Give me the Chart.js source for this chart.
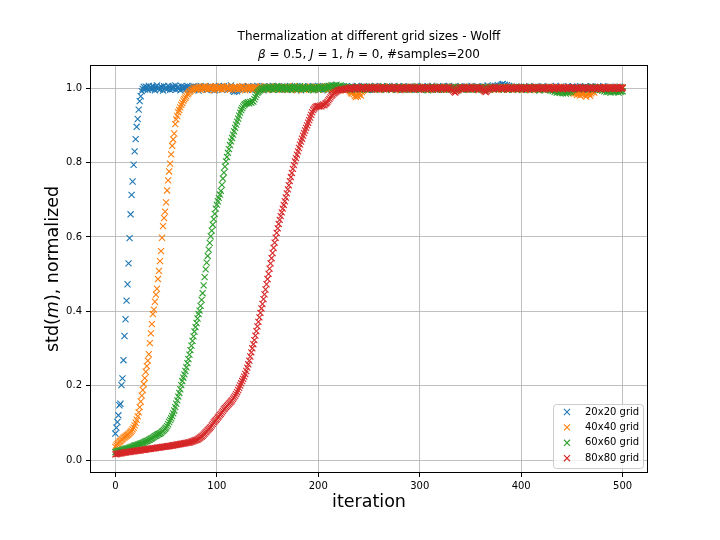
<!DOCTYPE html>
<html lang="en">
<head>
    <meta charset="UTF-8">
    <title>Thermalization at different grid sizes - Wolff</title>
    <script src="https://cdn.jsdelivr.net/npm/chart.js"></script>
    <style>
        html, body { margin: 0; padding: 0; background: #fff; }
        #wrap { width: 720px; height: 540px; }
    </style>
</head>
<body>
    <div id="wrap"><canvas id="chart" width="720" height="540"></canvas></div>
    <script>
        // series labels (legend order)
        const seriesLabels = ['20x20 grid', '40x40 grid', '60x60 grid', '80x80 grid'];

        // std(m), normalized, one value per iteration 0..500
        const grid20 = [
            0.072,0.088,0.103,0.121,0.148,0.152,0.202,0.220,0.269,0.334,
            0.379,0.429,0.473,0.529,0.597,0.661,0.713,0.749,0.794,0.830,
            0.863,0.896,0.917,0.942,0.965,0.978,0.992,0.998,1.003,0.996,
            1.004,1.001,0.995,1.006,0.999,1.002,0.997,1.005,1.000,0.994,
            1.003,1.007,0.998,1.001,0.996,1.004,1.002,0.993,1.005,0.999,
            1.001,0.997,1.006,1.003,0.995,1.000,1.004,0.998,1.002,1.007,
            0.996,1.001,1.004,0.999,0.994,1.005,1.002,0.998,1.003,1.000,
            0.997,1.006,1.001,0.995,1.004,0.999,1.002,1.005,0.996,1.001,
            1.003,0.998,0.993,1.002,1.006,1.000,0.997,1.004,0.999,1.002,
            0.995,1.003,1.001,0.998,1.005,0.996,1.002,1.000,0.994,1.004,
            1.001,0.997,1.006,0.999,1.003,0.995,1.002,1.005,0.998,1.000,
            1.004,0.996,1.001,0.999,1.007,1.002,0.993,0.990,0.992,0.996,
            0.991,0.995,0.999,1.003,1.001,0.997,1.004,0.998,1.002,1.000,
            0.996,1.005,1.001,0.998,1.003,0.995,1.000,1.004,0.997,1.002,
            1.006,0.999,1.001,0.996,1.003,1.000,0.994,1.005,1.002,0.998,
            1.001,1.004,0.997,1.002,0.999,1.006,0.995,1.001,1.003,0.998,
            1.000,1.005,0.996,1.002,0.999,1.004,1.001,0.997,1.003,0.995,
            1.002,1.000,1.006,0.998,1.001,0.996,1.004,0.999,1.002,1.005,
            0.997,1.001,1.003,0.994,1.000,1.004,0.998,1.002,0.996,1.001,
            1.005,0.999,1.002,0.997,1.004,1.000,0.995,1.003,1.001,0.998,
            1.006,1.002,0.996,1.001,0.999,1.004,0.997,1.003,1.000,0.994,
            1.002,1.005,0.998,1.001,0.996,1.003,0.999,1.007,1.002,0.997,
            1.000,1.004,0.995,1.001,1.003,0.998,1.002,0.996,1.005,1.000,
            0.997,1.003,1.001,0.994,1.004,1.000,0.998,1.002,1.006,0.999,
            1.001,0.996,1.003,1.000,0.997,1.005,1.002,0.998,1.001,0.995,
            1.004,1.000,0.997,1.003,1.001,0.996,1.006,0.999,1.002,0.998,
            1.003,0.995,1.001,1.004,0.998,1.002,1.000,0.996,1.005,1.001,
            0.999,1.003,0.997,1.002,1.000,1.006,0.998,1.001,0.995,1.004,
            1.002,0.998,1.001,0.996,1.005,1.000,1.003,0.997,1.002,0.999,
            1.004,1.001,0.995,1.002,0.999,1.003,0.997,1.006,1.000,0.998,
            1.002,0.996,1.004,1.001,0.998,1.003,1.000,0.995,1.005,1.001,
            0.998,1.002,1.006,0.999,1.001,0.996,1.003,1.000,0.997,1.004,
            1.001,0.995,1.002,1.005,0.998,1.000,1.003,0.997,1.001,1.006,
            0.999,1.002,0.996,1.004,1.001,0.998,1.003,1.000,0.994,1.002,
            1.005,0.999,1.001,0.997,1.003,1.000,0.996,1.004,1.002,0.998,
            1.001,1.006,0.997,1.002,0.999,1.003,0.995,1.001,1.004,1.000,
            0.998,1.002,1.005,0.996,1.001,1.003,0.999,1.007,1.002,0.997,
            1.004,1.000,0.998,1.003,1.006,1.001,1.005,1.008,1.004,1.002,
            1.007,1.010,1.011,1.006,1.009,1.004,1.008,1.003,1.006,1.001,
            0.999,1.003,0.996,1.002,1.000,1.004,0.997,1.001,1.003,0.998,
            1.002,0.995,1.001,1.004,0.999,1.003,0.997,1.000,1.005,1.001,
            0.998,1.002,1.000,0.996,1.004,1.001,0.998,1.003,0.995,1.002,
            1.000,1.005,0.997,1.001,1.003,0.999,1.002,0.996,1.004,1.000,
            0.997,1.003,1.001,0.998,1.006,1.000,0.995,1.002,0.999,1.004,
            1.001,0.997,1.003,1.000,0.996,1.002,1.005,0.998,1.001,0.999,
            1.004,0.996,1.002,1.000,0.997,1.003,1.001,0.995,1.005,0.999,
            1.002,0.998,1.001,1.004,0.997,1.000,1.003,0.996,1.002,1.005,
            0.999,1.001,0.996,1.003,1.000,0.998,1.004,1.001,0.997,1.002,
            1.000,1.005,0.998,1.001,0.996,1.003,0.999,1.002,1.004,0.997,
            1.001,0.999,1.003,0.996,1.002,1.000,0.998,1.004,1.001,0.999,
            1.002
        ];

        const grid40 = [
            0.036,0.040,0.044,0.047,0.050,0.052,0.055,0.057,0.060,0.062,
            0.064,0.066,0.068,0.070,0.073,0.076,0.079,0.083,0.088,0.094,
            0.101,0.109,0.118,0.129,0.143,0.158,0.174,0.189,0.205,0.221,
            0.238,0.253,0.268,0.285,0.315,0.341,0.366,0.393,0.405,0.426,
            0.445,0.461,0.487,0.509,0.535,0.562,0.598,0.629,0.651,0.668,
            0.693,0.725,0.752,0.776,0.797,0.822,0.845,0.862,0.878,0.903,
            0.916,0.925,0.935,0.941,0.948,0.955,0.960,0.966,0.970,0.974,
            0.978,0.983,0.986,0.990,0.992,0.995,0.996,0.999,1.001,0.998,
            1.002,0.997,1.004,1.000,0.995,1.003,1.001,0.998,1.005,0.999,
            1.002,0.996,1.001,1.004,0.998,1.000,1.003,0.994,1.001,1.005,
            0.999,1.002,0.997,1.003,1.000,0.996,1.004,1.001,0.998,1.002,
            1.005,0.999,1.001,0.995,1.003,1.000,0.997,1.002,1.004,0.998,
            1.001,0.996,1.003,0.999,1.002,1.005,0.998,1.000,0.994,1.003,
            1.001,0.997,1.004,1.000,0.998,1.002,0.995,1.001,1.003,0.999,
            1.002,0.996,1.000,1.005,0.998,1.001,0.997,1.003,1.000,0.995,
            1.003,1.001,0.998,1.004,0.999,1.002,0.996,1.000,1.003,0.997,
            1.001,1.004,0.998,1.000,0.995,1.002,0.999,1.003,1.001,0.997,
            1.004,1.000,0.996,1.002,0.999,1.001,1.005,0.998,1.000,0.994,
            1.002,0.999,1.003,0.997,1.001,1.000,0.996,1.004,0.998,1.002,
            1.000,0.995,1.003,1.001,0.998,1.002,0.997,1.000,1.004,0.999,
            1.001,0.996,1.002,0.999,1.003,0.997,1.000,1.005,0.998,1.001,
            0.995,1.002,0.999,1.003,1.000,0.997,1.001,0.994,1.002,0.998,
            1.003,1.000,0.996,1.001,0.998,1.004,0.999,0.993,0.997,1.001,
            0.996,0.992,0.988,0.985,0.990,0.984,0.979,0.976,0.981,0.978,
            0.983,0.986,0.980,0.989,0.993,0.996,1.000,0.997,1.002,0.999,
            1.003,0.998,1.001,0.996,1.002,1.000,0.997,1.004,0.999,1.001,
            0.995,1.002,0.998,1.001,1.003,0.997,1.000,0.996,1.002,0.999,
            1.004,1.000,0.997,1.002,0.999,1.003,0.996,1.001,0.998,1.002,
            1.000,0.994,1.003,0.999,1.001,0.997,1.004,1.000,0.996,1.002,
            0.998,1.001,1.003,0.997,1.000,0.995,1.002,0.999,1.004,1.000,
            0.997,1.002,0.999,1.001,0.996,1.003,1.000,0.998,1.002,0.995,
            1.001,0.999,1.004,0.997,1.000,1.002,0.996,1.001,0.999,1.003,
            0.998,1.000,0.995,1.002,1.001,0.997,1.003,0.999,1.000,0.996,
            1.002,0.998,1.001,1.004,0.997,1.000,0.993,0.996,1.002,0.999,
            1.001,0.997,1.003,1.000,0.995,1.002,0.998,1.001,0.999,1.004,
            0.996,1.001,0.999,1.002,0.997,1.000,1.003,0.998,0.994,1.001,
            0.999,1.002,0.996,1.000,1.003,0.997,1.001,0.998,1.002,0.995,
            1.000,0.998,1.002,0.999,1.001,0.996,1.003,1.000,0.997,1.002,
            0.999,1.001,0.995,1.002,0.998,1.000,1.003,0.997,1.001,0.999,
            1.002,0.996,1.000,1.001,0.998,1.003,0.999,0.995,1.002,1.000,
            0.997,1.001,0.999,1.003,0.996,1.000,1.002,0.998,1.001,0.994,
            1.000,1.002,0.997,1.001,0.999,1.003,0.996,1.000,0.998,1.002,
            0.999,1.001,0.995,1.000,1.002,0.997,1.001,0.999,1.003,0.996,
            1.000,0.998,1.002,0.999,1.001,0.996,1.000,1.003,0.997,0.999,
            1.002,0.998,1.000,0.995,1.001,0.999,1.002,0.996,0.993,0.990,
            0.992,0.988,0.985,0.990,0.986,0.982,0.987,0.984,0.980,0.985,
            0.989,0.983,0.986,0.981,0.977,0.983,0.987,0.984,0.979,0.986,
            0.990,0.993,0.988,0.995,0.998,1.000,0.997,1.001,0.999,1.002,
            0.996,1.000,0.998,1.003,0.999,1.001,0.997,1.002,1.000,0.995,
            1.001,0.999,1.002,0.997,1.000,1.003,0.998,1.001,0.999,1.002,
            1.000
        ];

        const grid60 = [
            0.022,0.023,0.024,0.025,0.026,0.026,0.027,0.028,0.029,0.030,
            0.031,0.031,0.032,0.033,0.034,0.035,0.036,0.037,0.038,0.040,
            0.040,0.041,0.042,0.043,0.044,0.045,0.046,0.047,0.048,0.050,
            0.051,0.052,0.053,0.055,0.056,0.058,0.059,0.061,0.063,0.065,
            0.066,0.068,0.070,0.071,0.072,0.074,0.077,0.079,0.082,0.085,
            0.088,0.092,0.097,0.103,0.108,0.113,0.119,0.126,0.134,0.143,
            0.152,0.161,0.171,0.181,0.191,0.202,0.213,0.222,0.231,0.240,
            0.250,0.261,0.272,0.284,0.296,0.308,0.321,0.333,0.346,0.358,
            0.369,0.381,0.393,0.402,0.415,0.431,0.449,0.470,0.492,0.513,
            0.531,0.549,0.566,0.584,0.602,0.617,0.633,0.648,0.662,0.676,
            0.687,0.696,0.705,0.714,0.724,0.740,0.757,0.773,0.789,0.803,
            0.815,0.826,0.836,0.847,0.857,0.866,0.875,0.884,0.893,0.902,
            0.910,0.918,0.926,0.934,0.941,0.946,0.951,0.955,0.957,0.959,
            0.960,0.962,0.959,0.963,0.961,0.965,0.964,0.970,0.976,0.982,
            0.987,0.990,0.993,0.995,0.997,0.999,1.001,0.998,1.002,1.000,
            1.002,0.997,1.004,0.999,1.001,0.995,1.003,1.000,0.998,1.005,
            1.001,0.996,1.002,0.999,1.004,0.997,1.000,1.003,0.998,1.001,
            0.995,1.002,1.000,0.997,1.004,1.001,0.998,1.003,0.996,1.000,
            1.002,0.999,1.005,0.997,1.001,0.998,1.003,1.000,0.996,1.002,
            0.999,1.004,1.001,0.997,1.000,0.994,1.002,0.998,1.003,1.000,
            0.997,1.001,1.004,0.999,1.002,0.996,1.000,1.003,0.998,1.005,
            1.001,1.006,1.003,1.008,1.004,1.007,1.002,1.005,1.009,1.004,
            1.006,1.002,1.007,1.003,1.001,1.005,0.999,1.003,1.000,0.997,
            1.002,0.998,1.001,0.995,1.003,1.000,0.997,1.002,0.999,1.004,
            1.000,0.996,1.002,0.999,1.001,0.997,1.003,1.000,0.995,1.002,
            0.998,1.001,1.004,0.997,1.000,1.002,0.996,1.001,0.999,1.003,
            1.000,0.997,1.002,0.999,1.005,0.998,1.001,0.996,1.003,1.000,
            0.998,1.002,0.995,1.001,0.999,1.003,1.000,0.997,1.002,0.999,
            1.004,0.998,1.001,0.996,1.002,1.000,0.997,1.003,0.999,1.001,
            0.995,1.002,0.998,1.000,1.003,0.997,1.001,0.999,1.004,0.998,
            1.001,0.996,1.002,0.999,1.000,1.003,0.997,1.001,0.994,1.002,
            0.999,1.001,0.997,1.003,1.000,0.998,1.002,0.996,1.001,0.999,
            1.003,0.998,1.000,1.002,0.995,1.001,0.999,1.004,0.997,1.000,
            1.002,0.996,1.001,0.999,1.003,0.998,1.000,0.997,1.002,0.999,
            1.000,1.003,0.996,1.001,0.998,1.002,0.999,1.000,0.995,1.003,
            0.999,1.001,0.997,1.002,1.000,0.998,1.003,0.996,1.001,0.999,
            1.002,0.997,1.000,1.001,0.995,1.003,0.998,1.000,1.002,0.996,
            1.001,0.999,1.003,0.997,1.000,1.002,0.998,1.001,0.996,1.000,
            1.003,0.999,1.001,0.997,1.002,1.000,0.995,1.001,0.998,1.003,
            0.999,1.001,0.996,1.002,1.000,0.998,1.003,0.997,1.001,0.999,
            1.002,0.996,1.000,1.001,0.998,1.003,0.999,1.000,0.995,1.002,
            0.998,1.001,0.999,1.003,0.997,1.000,1.002,0.996,0.993,0.997,
            1.000,0.998,1.002,0.999,0.996,1.001,0.997,1.000,0.995,0.993,
            0.996,0.992,0.995,0.990,0.993,0.988,0.991,0.989,0.987,0.992,
            0.989,0.986,0.990,0.988,0.985,0.991,0.987,0.990,0.993,0.989,
            0.994,0.997,1.000,0.998,1.002,0.999,1.001,0.996,1.000,1.003,
            0.998,1.001,0.997,1.000,1.002,0.999,0.996,1.001,0.998,1.000,
            1.003,0.997,1.000,0.999,1.002,0.996,1.001,0.998,0.995,0.997,
            0.993,0.996,0.991,0.994,0.989,0.993,0.990,0.992,0.988,0.991,
            0.993,0.989,0.992,0.990,0.994,0.991,0.988,0.993,0.990,0.992,
            0.991
        ];

        const grid80 = [
            0.016,0.017,0.017,0.018,0.018,0.019,0.019,0.020,0.020,0.021,
            0.021,0.022,0.022,0.022,0.023,0.023,0.024,0.024,0.024,0.025,
            0.025,0.026,0.026,0.026,0.027,0.027,0.028,0.028,0.028,0.029,
            0.029,0.030,0.030,0.030,0.031,0.031,0.032,0.032,0.032,0.033,
            0.033,0.034,0.034,0.034,0.035,0.035,0.036,0.036,0.036,0.037,
            0.037,0.038,0.038,0.038,0.039,0.039,0.040,0.040,0.041,0.041,
            0.042,0.042,0.043,0.043,0.044,0.044,0.045,0.045,0.046,0.046,
            0.047,0.047,0.048,0.048,0.049,0.050,0.051,0.052,0.053,0.054,
            0.055,0.056,0.058,0.060,0.062,0.064,0.066,0.069,0.072,0.075,
            0.078,0.081,0.084,0.087,0.090,0.094,0.098,0.102,0.105,0.108,
            0.111,0.115,0.118,0.122,0.125,0.129,0.133,0.137,0.140,0.143,
            0.146,0.149,0.152,0.155,0.158,0.161,0.165,0.169,0.173,0.178,
            0.183,0.189,0.195,0.201,0.207,0.213,0.219,0.225,0.232,0.240,
            0.249,0.258,0.268,0.279,0.290,0.301,0.312,0.323,0.335,0.347,
            0.360,0.372,0.384,0.396,0.408,0.420,0.433,0.446,0.459,0.473,
            0.487,0.501,0.515,0.529,0.543,0.557,0.571,0.585,0.598,0.611,
            0.623,0.635,0.646,0.656,0.666,0.676,0.686,0.696,0.706,0.717,
            0.728,0.739,0.750,0.761,0.772,0.783,0.793,0.803,0.812,0.821,
            0.830,0.839,0.848,0.856,0.864,0.872,0.879,0.886,0.893,0.900,
            0.907,0.914,0.921,0.928,0.935,0.941,0.945,0.948,0.950,0.951,
            0.952,0.950,0.953,0.951,0.954,0.956,0.954,0.958,0.960,0.963,
            0.967,0.971,0.975,0.979,0.982,0.985,0.987,0.989,0.991,0.993,
            0.994,0.995,0.996,0.997,0.995,0.998,0.996,0.999,0.997,1.000,
            0.998,1.001,0.997,1.002,0.999,1.000,0.996,1.003,1.001,0.998,
            1.002,0.999,1.000,0.997,1.003,1.001,0.998,1.000,1.004,0.999,
            1.001,0.997,1.002,1.000,0.998,1.003,0.999,1.001,0.996,1.002,
            1.000,0.998,1.003,0.999,1.001,0.997,1.002,1.000,0.998,1.001,
            0.999,1.003,1.000,0.997,1.002,0.999,1.001,0.998,1.003,1.000,
            0.997,1.001,0.999,1.002,1.000,0.996,1.001,0.999,1.003,0.998,
            1.000,1.002,0.998,1.001,0.997,1.003,1.000,0.999,1.001,0.996,
            1.002,0.999,1.000,1.003,0.998,1.001,0.997,1.002,1.000,0.999,
            1.001,0.997,1.003,1.000,0.998,1.002,0.999,1.001,0.996,1.000,
            1.003,0.999,1.001,0.998,1.002,1.000,0.997,1.001,0.999,1.003,
            0.998,1.000,0.996,0.993,0.990,0.988,0.991,0.994,0.997,1.000,
            1.002,0.999,1.001,0.997,1.003,1.000,0.998,1.002,0.999,1.001,
            0.997,1.000,1.003,0.999,1.001,0.998,1.002,1.000,0.996,1.001,
            0.999,1.002,0.998,0.994,0.991,0.989,0.992,0.995,0.998,1.000,
            1.002,0.999,1.001,0.997,1.003,1.000,0.998,1.001,0.999,1.002,
            1.000,0.997,1.001,0.999,1.003,0.998,1.000,1.002,0.996,1.001,
            0.999,1.002,1.000,0.998,1.001,0.997,1.003,1.000,0.999,1.002,
            0.998,1.001,0.999,1.002,1.000,0.996,1.001,0.999,1.003,0.998,
            1.000,1.002,0.997,1.001,0.999,1.003,1.000,0.998,1.002,0.999,
            1.001,0.997,1.002,1.000,0.998,1.001,0.999,1.003,0.997,1.000,
            1.002,0.999,1.001,0.996,1.000,1.003,0.998,1.001,0.999,1.002,
            1.000,0.997,1.001,0.999,1.002,0.998,1.000,1.003,0.999,1.001,
            0.997,1.002,1.000,0.998,1.001,0.999,1.003,0.997,1.000,1.002,
            0.999,1.001,0.998,1.002,1.000,0.996,1.001,0.999,1.003,1.000,
            0.998,1.001,0.999,1.002,0.997,1.000,1.001,0.999,1.003,0.998,
            1.000,1.002,0.999,1.001,0.997,1.000,1.002,0.998,1.001,0.999,
            1.002,1.000,0.998,1.001,0.999,1.003,0.997,1.000,1.002,0.999,
            1.001
        ];

        const seriesValues = [grid20, grid40, grid60, grid80];
        const seriesColors = ['#1f77b4', '#ff7f0e', '#2ca02c', '#d62728'];

        const xTicks = [0, 100, 200, 300, 400, 500];
        const yTicks = [0.0, 0.2, 0.4, 0.6, 0.8, 1.0];

        const FONT = "'DejaVu Sans', 'Liberation Sans', sans-serif";
        const MARK_R = 4.3;
        const MARK_W = 1.1;

        function drawX(ctx, x, y, r, color) {
            const d = r * Math.SQRT1_2;
            ctx.beginPath();
            ctx.moveTo(x - d, y - d); ctx.lineTo(x + d, y + d);
            ctx.moveTo(x - d, y + d); ctx.lineTo(x + d, y - d);
            ctx.strokeStyle = color;
            ctx.lineWidth = MARK_W;
            ctx.stroke();
        }

        // draw pieces of text in a row, some in italic
        function drawPieces(ctx, pieces, size, cx, cy) {
            let total = 0;
            pieces.forEach(p => {
                ctx.font = (p[1] ? 'italic ' : '') + size + 'px ' + FONT;
                p.w = ctx.measureText(p[0]).width;
                total += p.w;
            });
            let x = cx - total / 2;
            ctx.textAlign = 'left';
            ctx.textBaseline = 'middle';
            pieces.forEach(p => {
                ctx.font = (p[1] ? 'italic ' : '') + size + 'px ' + FONT;
                ctx.fillText(p[0], x, cy);
                x += p.w;
            });
        }

        const decorPlugin = {
            id: 'decor',
            afterDraw(chart) {
                const ctx = chart.ctx;
                const a = chart.chartArea;
                ctx.save();

                // spines
                ctx.strokeStyle = '#000';
                ctx.lineWidth = 1;
                ctx.strokeRect(a.left + 0.5, a.top + 0.5, a.right - a.left - 1, a.bottom - a.top - 1);

                // title
                const cx = (a.left + a.right) / 2;
                ctx.fillStyle = '#000';
                drawPieces(ctx, [['Thermalization at different grid sizes - Wolff', false]], 12, cx, 37);
                drawPieces(ctx, [['\u03b2', true], [' = 0.5, ', false], ['J', true], [' = 1, ', false],
                    ['h', true], [' = 0, #samples=200', false]], 12, cx, 55);

                // x label
                drawPieces(ctx, [['iteration', false]], 17.5, cx, 502);

                // y label
                ctx.save();
                ctx.translate(53, (a.top + a.bottom) / 2);
                ctx.rotate(-Math.PI / 2);
                drawPieces(ctx, [['std(', false], ['m', true], ['), normalized', false]], 17.5, 0, 0);
                ctx.restore();

                // legend
                const lx = 553, ly = 404, lw = 90, lh = 64;
                ctx.beginPath();
                if (ctx.roundRect) ctx.roundRect(lx + 0.5, ly + 0.5, lw, lh, 3);
                else ctx.rect(lx + 0.5, ly + 0.5, lw, lh);
                ctx.fillStyle = 'rgba(255,255,255,0.8)';
                ctx.fill();
                ctx.strokeStyle = '#cccccc';
                ctx.lineWidth = 1;
                ctx.stroke();
                seriesLabels.forEach((lab, i) => {
                    const y = 412 + i * 15.4;
                    drawX(ctx, 567, y, MARK_R, seriesColors[i]);
                    ctx.fillStyle = '#000';
                    ctx.font = '10px ' + FONT;
                    ctx.textAlign = 'left';
                    ctx.textBaseline = 'middle';
                    ctx.fillText(lab, 585, y);
                });
                ctx.restore();
            }
        };

        const datasets = seriesValues.map((vals, i) => ({
            label: seriesLabels[i],
            data: vals.map((v, k) => ({ x: k, y: v })),
            showLine: false,
            pointStyle: 'crossRot',
            pointRadius: MARK_R,
            pointHoverRadius: MARK_R,
            borderColor: seriesColors[i],
            backgroundColor: seriesColors[i],
            pointBorderWidth: MARK_W,
            order: seriesValues.length - i
        }));

        new Chart(document.getElementById('chart'), {
            type: 'scatter',
            data: { datasets: datasets },
            options: {
                responsive: false,
                animation: false,
                events: [],
                layout: { padding: { left: 0, right: 72, top: 65, bottom: 0 } },
                plugins: {
                    legend: { display: false },
                    title: { display: false },
                    tooltip: { enabled: false }
                },
                scales: {
                    x: {
                        type: 'linear',
                        min: -25,
                        max: 525,
                        afterFit: s => { s.height = 67; },
                        afterBuildTicks: s => { s.ticks = xTicks.map(v => ({ value: v })); },
                        ticks: {
                            includeBounds: false,
                            color: '#000',
                            font: { family: FONT, size: 10 },
                            padding: 3,
                            maxRotation: 0,
                            callback: v => String(v)
                        },
                        grid: { color: '#b0b0b0', lineWidth: 0.8, tickColor: '#000', tickLength: 4, tickWidth: 1 },
                        border: { display: false }
                    },
                    y: {
                        type: 'linear',
                        min: -0.034,
                        max: 1.062,
                        afterFit: s => { s.width = 90; },
                        afterBuildTicks: s => { s.ticks = yTicks.map(v => ({ value: v })); },
                        ticks: {
                            includeBounds: false,
                            color: '#000',
                            font: { family: FONT, size: 10 },
                            padding: 4,
                            callback: v => v.toFixed(1)
                        },
                        grid: { color: '#b0b0b0', lineWidth: 0.8, tickColor: '#000', tickLength: 4, tickWidth: 1 },
                        border: { display: false }
                    }
                }
            },
            plugins: [decorPlugin]
        });
    </script>
</body>
</html>
